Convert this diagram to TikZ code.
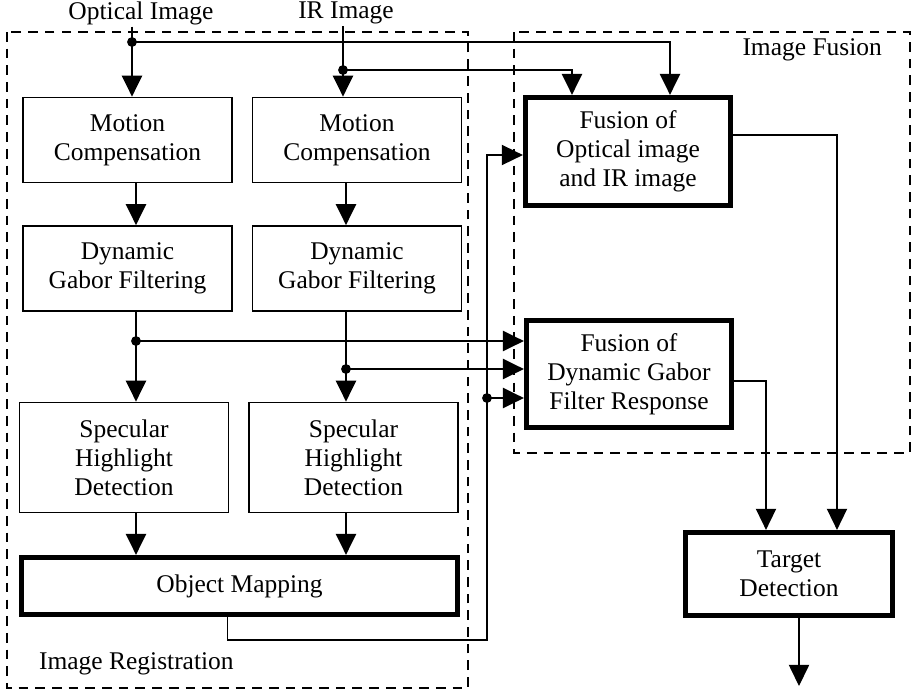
\documentclass[tikz,border=0pt]{standalone}
\usepackage{fontspec}
\setmainfont{Liberation Serif}
\usetikzlibrary{arrows.meta, positioning, calc}

\begin{document}
\begin{tikzpicture}[
  x=0.02cm, y=-0.02cm,
  every node/.style={font=\fontsize{14.5}{16.4}\selectfont},
  blk/.style={rectangle, draw, line width=1pt, minimum width=4.18cm,
    minimum height=1.7cm, align=center, inner sep=2pt},
  bblk/.style={blk, line width=3pt, minimum width=4.1cm},
  grp/.style={draw, line width=1.1pt, dash pattern=on 5.5pt off 4pt},
  lbl/.style={inner sep=1pt},
  arr/.style={-{Triangle[length=12pt,width=11.5pt]}, line width=1.1pt},
  arrthin/.style={arr, line width=0.7pt},
]
  \useasboundingbox (0,0) rectangle (913,694);

  % frames
  \draw[grp] (7,32) rectangle (468,688);
  \draw[grp] (514,32) rectangle (910,453);
  \node[lbl, anchor=west] (reglbl) at (37,664) {Image Registration};
  \node[lbl, anchor=east] (fuslbl) at (884,50) {Image Fusion};

  % inputs
  \node[lbl] (opt) at (141,13) {Optical Image};
  \node[lbl] (ir) at (346,13) {IR Image};

  % registration
  \node[blk] (mc1) at (127.5,140) {Motion\\Compensation};
  \node[blk] (mc2) at (357,140) {Motion\\Compensation};
  \node[blk] (dg1) at (127.5,268.5) {Dynamic\\Gabor Filtering};
  \node[blk] (dg2) at (357,268.5) {Dynamic\\Gabor Filtering};
  \node[blk, minimum height=2.2cm] (sh1) at (124,457.5) {Specular\\Highlight\\Detection};
  \node[blk, minimum height=2.2cm] (sh2) at (353.5,457.5) {Specular\\Highlight\\Detection};
  \node[bblk, minimum width=8.72cm, minimum height=1.14cm] (om) at (239.5,586) {Object Mapping};

  % fusion
  \node[bblk, minimum height=2.16cm] (fu1) at (628,151.5) {Fusion of\\Optical image\\and IR image};
  \node[bblk, minimum height=2.14cm] (fu2) at (629,374) {Fusion of\\Dynamic Gabor\\Filter Response};
  \node[bblk, minimum width=4.14cm, minimum height=1.66cm] (td) at (789,574) {Target\\Detection};

  % junctions
  \coordinate (j1) at (132,42);
  \coordinate (j2) at (343,70);
  \coordinate (j3) at (136,341);
  \coordinate (j4) at (346,369);
  \coordinate (j5) at (487,398);
  \coordinate (bus) at (487,640);
  \coordinate (out) at (799,686);

  \draw[arr] (opt.south -| j1) -- (mc1.north -| j1);
  \draw[arr] (j1) -| ($(fu1.north)+(42,0)$);
  \draw[arr] (ir.south -| j2) -- (mc2.north -| j2);
  \draw[arr] (j2) -| ($(fu1.north)+(-56,0)$);

  \draw[arr] (mc1.south -| j3) -- (dg1.north -| j3);
  \draw[arr] (mc2.south -| j4) -- (dg2.north -| j4);
  \draw[arr] (dg1.south -| j3) -- (sh1.north -| j3);
  \draw[arr] (dg2.south -| j4) -- (sh2.north -| j4);
  \draw[arr] (sh1.south -| j3) -- (om.north -| j3);
  \draw[arr] (sh2.south -| j4) -- (om.north -| j4);

  \draw[arr] (j3) -- (j3 -| fu2.west);
  \draw[arr] (j4) -- (j4 -| fu2.west);
  \draw[arrthin] ($(om.south)+(-12,0)$) |- (bus) |- ($(fu1.west)+(0,3.5)$);
  \draw[arr] (j5) -- (j5 -| fu2.west);

  \draw[arrthin] ($(fu1.east)+(0,-16.5)$) -| ($(td.north)+(48,0)$);
  \draw[arrthin] ($(fu2.east)+(0,7)$) -| ($(td.north)+(-23,0)$);
  \draw[arrthin] (td.south -| out) -- (out);

  \foreach \j in {j1,j2,j3,j4,j5}
    \fill (\j) circle (2.8pt);
\end{tikzpicture}
\end{document}
